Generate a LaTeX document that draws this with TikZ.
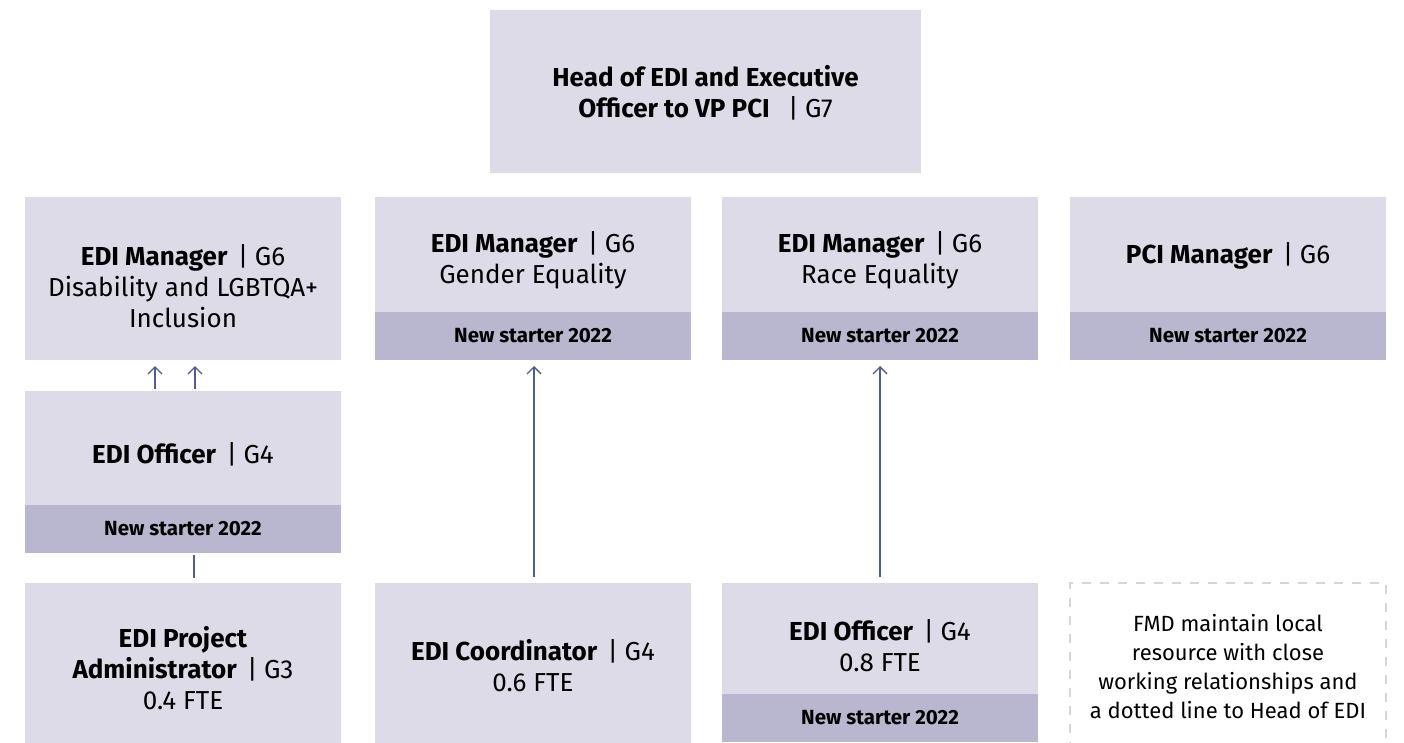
\documentclass[tikz,border=0pt]{standalone}
\usepackage{fontspec}
\setmainfont{Fira Sans}
\usetikzlibrary{arrows.meta}
\definecolor{boxfill}{HTML}{DDDBE8}
\definecolor{bandfill}{HTML}{B9B7CF}
\definecolor{arrowc}{HTML}{4F5E8E}
\definecolor{dashc}{HTML}{D5D5DD}
\begin{document}
\begin{tikzpicture}[x=1pt,y=-1pt,
 box/.style={fill=boxfill, inner sep=0pt, outer sep=0pt, minimum width=316pt},
 band/.style={fill=bandfill, inner sep=0pt, outer sep=0pt, minimum width=316pt, minimum height=48pt},
 lbl/.style={align=center, font=\fontsize{26}{31}\selectfont, inner sep=0pt},
 bandlbl/.style={font=\fontsize{20.5}{22}\selectfont\bfseries, inner sep=0pt},
 conn/.style={draw=arrowc, line width=1.3pt, -{Straight Barb[length=7pt,width=14pt,line width=1.3pt]}},
 plain/.style={draw=arrowc, line width=1.3pt},
]
\useasboundingbox (0,0) rectangle (1404,742);
\clip (0,0) rectangle (1404,742);
\fill[white] (0,0) rectangle (1404,742);
\newcommand{\sepbar}[1]{\hspace{0.4em}|\hspace{0.25em}#1}
% top
\node[box, minimum width=431pt, minimum height=163pt] (top) at (705.5,91.5) {};
\node[lbl] (topt) at (705.5,93) {\textbf{Head of EDI and Executive}\\\textbf{Officer to VP PCI}\hspace{0.3em}\sepbar{G7}};
% row 1
\node[box, minimum height=163pt] (m1) at (183,278.5) {};
\node[lbl] (m1t) at (183,286) {\textbf{EDI Manager}\sepbar{G6}\\Disability and LGBTQA+\\Inclusion};
\node[box, minimum height=115pt] (m2) at (533,254.5) {};
\node[band] (m2b) at (533,336) {};
\node[lbl] (m2t) at (533,260) {\textbf{EDI Manager}\sepbar{G6}\\Gender Equality};
\node[bandlbl] (m2bt) at (533,336) {New starter 2022};
\node[box, minimum height=115pt] (m3) at (880,254.5) {};
\node[band] (m3b) at (880,336) {};
\node[lbl] (m3t) at (880,260) {\textbf{EDI Manager}\sepbar{G6}\\Race Equality};
\node[bandlbl] (m3bt) at (880,336) {New starter 2022};
\node[box, minimum height=115pt] (m4) at (1228,254.5) {};
\node[band] (m4b) at (1228,336) {};
\node[lbl] (m4t) at (1228,256) {\textbf{PCI Manager}\sepbar{G6}};
\node[bandlbl] (m4bt) at (1228,336) {New starter 2022};
% col1 officer
\node[box, minimum height=114pt] (o1) at (183,448) {};
\node[band] (o1b) at (183,529) {};
\node[lbl] (o1t) at (183,454) {\textbf{EDI Officer}\sepbar{G4}};
\node[bandlbl] (o1bt) at (183,529) {New starter 2022};
% row 3
\node[box, minimum height=163pt] (pa) at (183,664.5) {};
\node[lbl] (pat) at (183,668) {\textbf{EDI Project}\\\textbf{Administrator}\sepbar{G3}\\0.4 FTE};
\node[box, minimum height=163pt] (co) at (533,664.5) {};
\node[lbl] (cot) at (533,666) {\textbf{EDI Coordinator}\sepbar{G4}\\0.6 FTE};
\node[box, minimum height=111pt] (o3) at (880,638.5) {};
\node[band] (o3b) at (880,718) {};
\node[lbl] (o3t) at (880,646) {\textbf{EDI Officer}\sepbar{G4}\\0.8 FTE};
\node[bandlbl] (o3bt) at (880,718) {New starter 2022};
\node[draw=dashc, line width=2pt, dash pattern=on 9pt off 9pt, inner sep=0pt, minimum width=316pt, minimum height=163pt] (fmd) at (1228,664.5) {};
\node[lbl, font=\fontsize{22}{29}\selectfont] (fmdt) at (1228,667) {FMD maintain local\\resource with close\\working relationships and\\a dotted line to Head of EDI};
% connectors
\draw[conn, shorten <=2pt, shorten >=6pt] ([xshift=-28pt]o1.north) -- ([xshift=-28pt]m1.south);
\draw[conn, shorten <=2pt, shorten >=6pt] ([xshift=12pt]o1.north) -- ([xshift=12pt]m1.south);
\draw[plain, shorten <=2pt, shorten >=5pt] ([xshift=11pt]o1b.south) -- ([xshift=11pt]pa.north);
\draw[conn, shorten <=6pt, shorten >=6pt] ([xshift=1pt]co.north) -- ([xshift=1pt]m2b.south);
\draw[conn, shorten <=6pt, shorten >=6pt] (o3.north) -- (m3b.south);
\end{tikzpicture}
\end{document}
